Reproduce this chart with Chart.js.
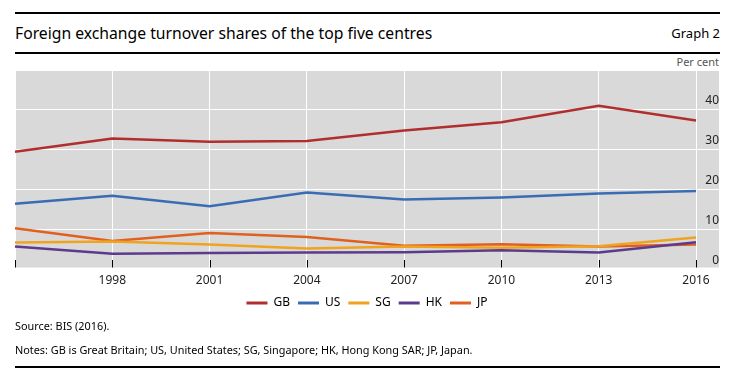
<!DOCTYPE html>
<html lang="en">

<head>
    <meta charset="UTF-8">
    <title>Foreign exchange turnover shares of the top five centres</title>
    <script src="https://cdn.jsdelivr.net/npm/chart.js@4"></script>
    <style>
        body {
            margin: 0;
            width: 736px;
            height: 377px;
            position: relative;
            background: #fff;
            font-family: "Noto Sans", "Open Sans", sans-serif;
            color: #000;
            overflow: hidden;
        }

        .rule {
            position: absolute;
            left: 15px;
            width: 705px;
            height: 2px;
            background: #000;
        }

        .txt {
            position: absolute;
            white-space: nowrap;
            line-height: 1;
        }

        #chartBox {
            position: absolute;
            left: 0;
            top: 0;
            width: 736px;
            height: 319px;
        }
    </style>
</head>

<body>
    <div class="rule" style="top:12px"></div>
    <div class="txt" data-w="417" style="left:15px; top:26px; font-size:15.7px;">Foreign exchange turnover shares of the top five centres</div>
    <div class="txt" style="right:16px; top:27px; font-size:13px;">Graph 2</div>
    <div class="rule" style="top:52px"></div>
    <div class="txt" style="right:17px; top:56px; font-size:11px; color:#555;">Per cent</div>

    <div id="chartBox"><canvas id="fxChart"></canvas></div>

    <div class="txt" id="source" style="left:15px; top:321px; font-size:11px;">Source: BIS (2016).</div>
    <div class="txt" id="notes" data-w="457" style="left:15px; top:345px; font-size:11.2px;">Notes: GB is Great Britain; US, United States; SG, Singapore; HK, Hong Kong SAR; JP, Japan.</div>
    <div class="rule" style="top:366px"></div>

    <script>
        // survey years (1995 has no label on the axis)
        const years = ['1995', '1998', '2001', '2004', '2007', '2010', '2013', '2016'];

        // shares of global FX turnover, per cent
        const gbShare = [29.3, 32.6, 31.8, 32.0, 34.6, 36.7, 40.8, 37.1];
        const usShare = [16.3, 18.3, 15.7, 19.1, 17.4, 17.9, 18.9, 19.5];
        const sgShare = [6.6, 6.9, 6.1, 5.1, 5.6, 5.3, 5.7, 7.9];
        const hkShare = [5.6, 3.8, 4.0, 4.1, 4.2, 4.7, 4.1, 6.7];
        const jpShare = [10.2, 7.0, 9.0, 8.0, 5.8, 6.2, 5.6, 6.1];

        const yTicks = [0, 10, 20, 30, 40];

        const GRAY = '#d9d9d9';

        // the original uses a narrower face, so size the text blocks to the original widths
        document.querySelectorAll('[data-w]').forEach(el => {
            const target = +el.dataset.w;
            const size = parseFloat(el.style.fontSize);
            const w = el.getBoundingClientRect().width;
            if (w > 0) el.style.fontSize = (size * target / w).toFixed(2) + 'px';
        });
        document.getElementById('source').style.fontSize = document.getElementById('notes').style.fontSize;

        // grey panel behind the plot, also covering the right-hand axis labels
        const panelBg = {
            id: 'panelBg',
            beforeDraw(chart) {
                const { ctx, chartArea } = chart;
                const yScale = chart.scales.y;
                ctx.save();
                ctx.fillStyle = GRAY;
                ctx.fillRect(chartArea.left, chartArea.top, yScale.right - chartArea.left, chartArea.bottom - 1.5 - chartArea.top);
                ctx.restore();
            }
        };

        // short black tick marks at the bottom of the panel
        const bottomTicks = {
            id: 'bottomTicks',
            afterDatasetsDraw(chart) {
                const { ctx, chartArea } = chart;
                const xScale = chart.scales.x;
                ctx.save();
                ctx.strokeStyle = '#000';
                ctx.lineWidth = 1;
                years.forEach((_, i) => {
                    const x = Math.round(xScale.getPixelForValue(i)) + 0.5;
                    ctx.beginPath();
                    ctx.moveTo(x, chartArea.bottom - 9);
                    ctx.lineTo(x, chartArea.bottom - 1.5);
                    ctx.stroke();
                });
                ctx.restore();
            }
        };

        function serie(label, data, color) {
            return {
                label: label,
                data: data,
                borderColor: color,
                backgroundColor: color,
                borderWidth: 2.5,
                pointRadius: 0,
                tension: 0,
                fill: false
            };
        }

        new Chart(document.getElementById('fxChart'), {
            type: 'line',
            data: {
                labels: years,
                datasets: [
                    serie('GB', gbShare, '#b02f2e'),
                    serie('US', usShare, '#3a6cb4'),
                    serie('SG', sgShare, '#f0a31e'),
                    serie('HK', hkShare, '#5c3b8d'),
                    serie('JP', jpShare, '#e0601f')
                ]
            },
            options: {
                responsive: true,
                maintainAspectRatio: false,
                animation: false,
                layout: { padding: { top: 71, left: 15, right: 17, bottom: 0 } },
                plugins: {
                    tooltip: { enabled: false },
                    legend: {
                        position: 'bottom',
                        labels: {
                            boxWidth: 21,
                            boxHeight: 3,
                            padding: 8,
                            color: '#000',
                            font: { family: 'Noto Sans', size: 12 },
                            generateLabels(chart) {
                                return chart.data.datasets.map((ds, i) => ({
                                    text: ds.label,
                                    fillStyle: ds.borderColor,
                                    strokeStyle: ds.borderColor,
                                    lineWidth: 0,
                                    hidden: false,
                                    datasetIndex: i
                                }));
                            }
                        }
                    }
                },
                scales: {
                    x: {
                        offset: false,
                        border: { display: false },
                        grid: { color: '#fff', lineWidth: 1, drawTicks: false },
                        ticks: {
                            padding: 4,
                            color: '#222',
                            maxRotation: 0,
                            autoSkip: false,
                            font: { family: 'Noto Sans', size: 12 },
                            callback: (v, i) => (i === 0 ? '' : years[i])
                        },
                        afterFit(scale) { scale.height = 20; }
                    },
                    y: {
                        position: 'right',
                        min: 0,
                        max: 49.5,
                        border: { display: false },
                        grid: {
                            color: ctx => (ctx.tick && ctx.tick.value === 0 ? 'rgba(0,0,0,0)' : '#fff'),
                            tickColor: ctx => (ctx.tick && ctx.tick.value === 0 ? 'rgba(0,0,0,0)' : '#fff'),
                            lineWidth: 1,
                            tickLength: 23
                        },
                        afterBuildTicks(scale) {
                            scale.ticks = yTicks.map(v => ({ value: v }));
                        },
                        afterFit(scale) { scale.width = 23; },
                        ticks: {
                            crossAlign: 'far',
                            padding: -16,
                            labelOffset: -8,
                            color: '#222',
                            font: { family: 'Noto Sans', size: 12 }
                        }
                    }
                }
            },
            plugins: [panelBg, bottomTicks]
        });
    </script>
</body>

</html>
